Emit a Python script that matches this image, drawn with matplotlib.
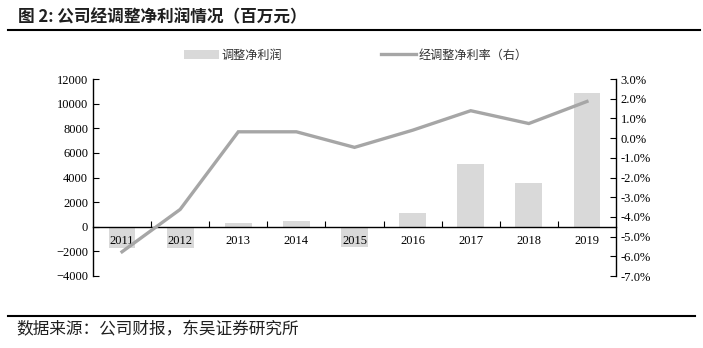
import numpy as np
import matplotlib
matplotlib.use("Agg")
import matplotlib.pyplot as plt
from matplotlib.lines import Line2D
from matplotlib.patches import Patch
from matplotlib.ticker import FuncFormatter

# data
years = ["2011", "2012", "2013", "2014", "2015", "2016", "2017", "2018", "2019"]
adj_profit = [-1750, -1700, 280, 460, -1650, 1090, 5090, 3570, 10900]   # 百万元
adj_margin = [-5.77, -3.62, 0.32, 0.32, -0.47, 0.40, 1.39, 0.74, 1.86]  # %

cjk = ["Noto Sans CJK SC", "DejaVu Sans"]
serif = "Liberation Serif"

fig = plt.figure(figsize=(7.03, 3.48), dpi=100)
ax = fig.add_axes([93 / 703, 1 - 276 / 348, (616 - 93) / 703, (276 - 79) / 348])
ax2 = ax.twinx()

x = np.arange(len(years))
ax.bar(x, adj_profit, width=0.46, color="#d9d9d9", zorder=1)
ax2.plot(x, adj_margin, color="#a6a6a6", lw=2.4, solid_joinstyle="miter", zorder=3)

ax.set_xlim(-0.5, len(years) - 0.5)
ax.set_ylim(-4000, 12000)
ax.set_yticks(np.arange(-4000, 12001, 2000))
ax2.set_ylim(-7, 3)
ax2.set_yticks(np.arange(-7, 3.01, 1))
ax2.yaxis.set_major_formatter(FuncFormatter(lambda v, p: f"{v:.1f}%"))

# x axis sits on zero, ticks between categories, labels at centers
ax.spines["bottom"].set_position(("data", 0))
ax.spines["top"].set_visible(False)
ax.spines["right"].set_visible(False)
ax2.spines["top"].set_visible(False)
ax2.spines["left"].set_visible(False)
ax2.spines["bottom"].set_visible(False)
for s in [ax.spines["left"], ax.spines["bottom"], ax2.spines["right"]]:
    s.set_color("#000000")
    s.set_linewidth(1.0)

ax.set_xticks(x[:-1] + 0.5)
ax.set_xticklabels([])
ax.set_xticks(x, minor=True)
ax.set_xticklabels(years, minor=True, fontfamily=serif, fontsize=9)
ax.tick_params(axis="x", which="major", direction="in", length=4)
ax.tick_params(axis="x", which="minor", length=0, pad=6)
ax.tick_params(axis="y", direction="in", length=4, labelsize=9)
ax2.tick_params(axis="y", direction="in", length=4, labelsize=9)
for lab in ax.get_yticklabels() + ax2.get_yticklabels():
    lab.set_fontfamily(serif)

# legend
handles = [Patch(facecolor="#d9d9d9", edgecolor="none"),
           Line2D([0], [0], color="#a6a6a6", lw=2.4)]
fig.legend(handles, ["调整净利润", "经调整净利率（右）"], loc="center left",
           bbox_to_anchor=(178 / 703, 1 - 55 / 348), ncol=2, frameon=False,
           prop={"family": cjk, "size": 8.7}, handlelength=2.9, handletextpad=0.2,
           columnspacing=8.2, borderpad=0, labelcolor="#333333")

# title, rules and source
fig.text(18 / 703, 1 - 17 / 348, "图 2: 公司经调整净利润情况（百万元）", family=cjk,
         fontsize=12, fontweight="bold", color="#1f1f1f", va="center", ha="left")
fig.add_artist(Line2D([8 / 703, 700 / 703], [1 - 30 / 348] * 2, color="#000000", lw=1.5))
fig.add_artist(Line2D([8 / 703, 695 / 703], [1 - 316 / 348] * 2, color="#000000", lw=1.5))
fig.text(16 / 703, 1 - 330 / 348, "数据来源：公司财报，东吴证券研究所", family=cjk,
         fontsize=12, color="#1f1f1f", va="center", ha="left")

fig.savefig("out.png", dpi=100)
